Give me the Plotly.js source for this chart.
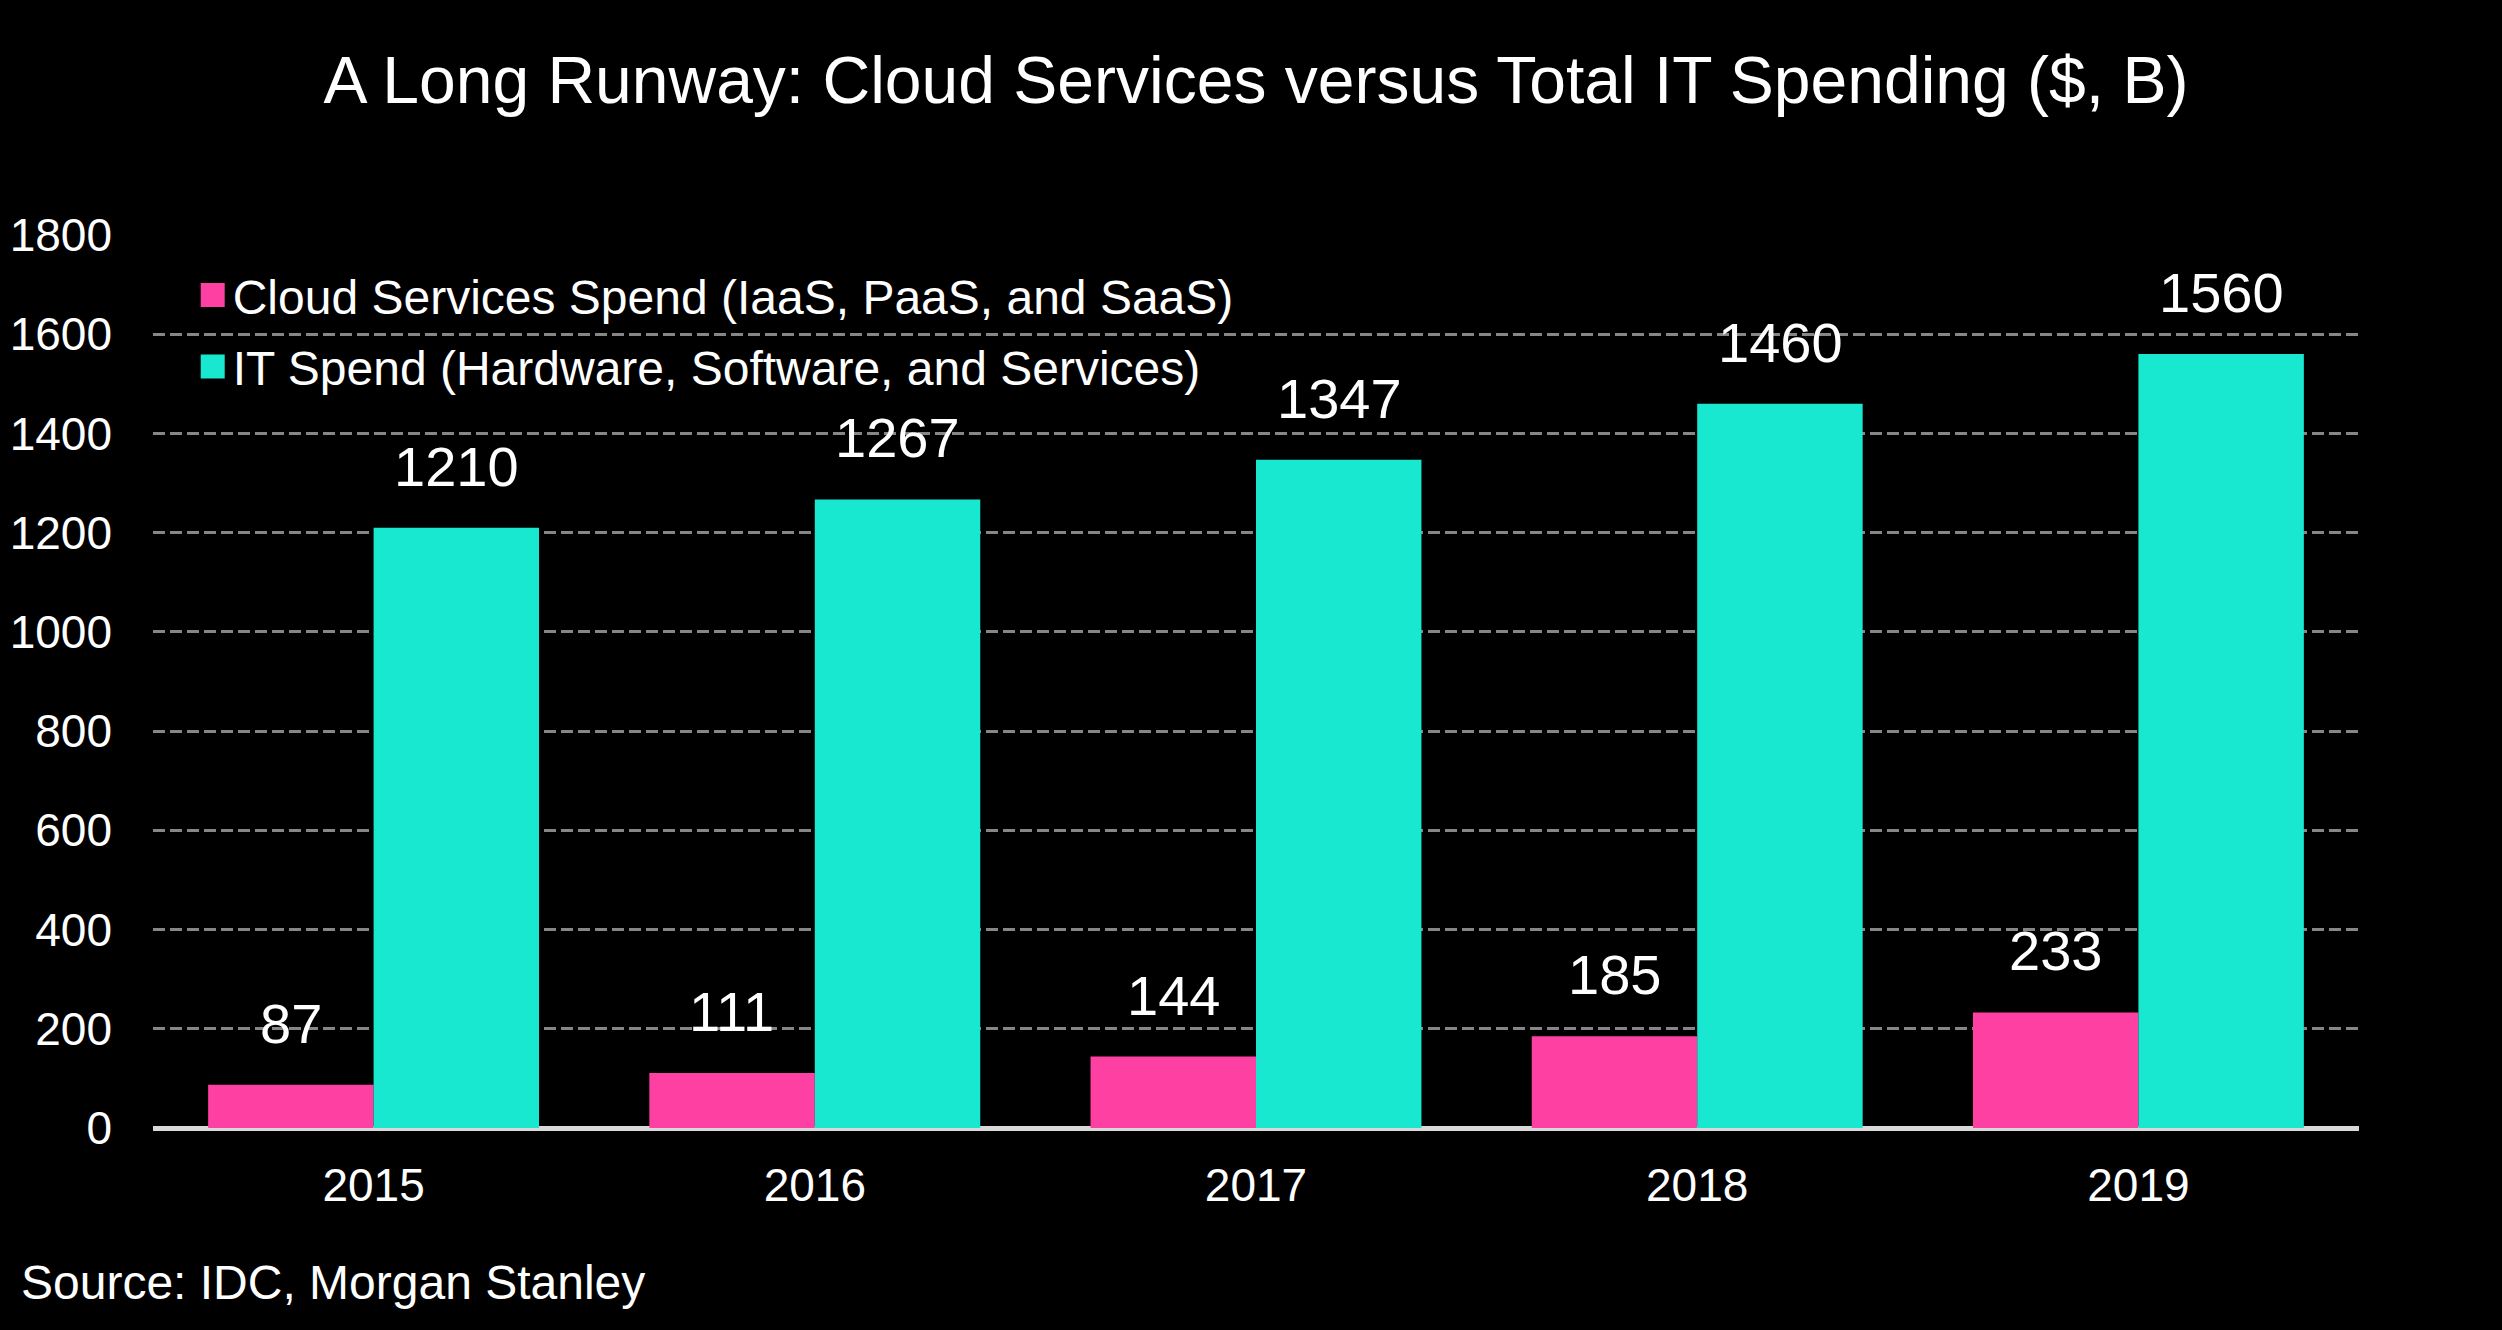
<!DOCTYPE html>
<html>
<head>
<meta charset="utf-8">
<script src="https://cdn.plot.ly/plotly-3.0.1.min.js"></script>
<style>
html, body { margin: 0; padding: 0; background: #000; }
#chart { width: 2502px; height: 1330px; }
</style>
</head>
<body>
<div id="chart"></div>
<script>
const years = ['2015', '2016', '2017', '2018', '2019'];
const cloudSpend = [87, 111, 144, 185, 233];
const itSpend = [1210, 1267, 1347, 1460, 1560];
const cloudName = 'Cloud Services Spend (IaaS, PaaS, and SaaS)';
const itName = 'IT Spend (Hardware, Software, and Services)';
const yTicks = [0, 200, 400, 600, 800, 1000, 1200, 1400, 1600, 1800];

const FONT = 'Liberation Sans, Arial, sans-serif';
const PINK = '#FF40A3';
const TEAL = '#19E8D1';

const traces = [
  { type: 'bar', x: years, y: cloudSpend, name: cloudName, legendgroup: 'a',
    marker: { color: PINK }, hoverinfo: 'skip' },
  { type: 'bar', x: years, y: itSpend, name: itName, legendgroup: 'b',
    marker: { color: TEAL }, hoverinfo: 'skip' }
];

const annotations = [];
years.forEach((yr, i) => {
  annotations.push({ x: i, y: cloudSpend[i], xref: 'x', yref: 'y', text: String(cloudSpend[i]),
    showarrow: false, xanchor: 'center', yanchor: 'bottom', xshift: -83, yshift: 28,
    font: { family: FONT, size: 56, color: '#fff' } });
  annotations.push({ x: i, y: itSpend[i], xref: 'x', yref: 'y', text: String(itSpend[i]),
    showarrow: false, xanchor: 'center', yanchor: 'bottom', xshift: 83, yshift: 28,
    font: { family: FONT, size: 56, color: '#fff' } });
});
annotations.push({ x: -0.0607, y: -0.1725, xref: 'paper', yref: 'paper', text: 'Source: IDC, Morgan Stanley',
  showarrow: false, xanchor: 'left', yanchor: 'middle', font: { family: FONT, size: 48, color: '#fff' } });

const layout = {
  width: 2502, height: 1330,
  paper_bgcolor: '#000', plot_bgcolor: '#000',
  margin: { l: 153, r: 143, t: 235, b: 202, pad: 0 },
  font: { family: FONT, color: '#fff' },
  title: { text: 'A Long Runway: Cloud Services versus Total IT Spending ($, B)',
    font: { family: FONT, size: 66, color: '#fff' },
    x: 0.5, xanchor: 'center', xref: 'paper', y: 1 - 80 / 1330, yref: 'container', yanchor: 'middle' },
  barmode: 'group', bargap: 0.25, bargroupgap: 0,
  xaxis: { type: 'category', range: [-0.5, 4.5], autorange: false, showgrid: false, zeroline: false,
    showline: false, ticks: '',
    tickfont: { family: FONT, size: 46, color: '#fff' }, ticklabelstandoff: 26 },
  yaxis: { range: [0, 1800], autorange: false, tickvals: yTicks, showgrid: true, gridcolor: '#868686', gridwidth: 3,
    griddash: '12px,5px', zeroline: true, zerolinecolor: '#d9d9d9', zerolinewidth: 5, showline: false, ticks: '',
    tickfont: { family: FONT, size: 46, color: '#fff' }, ticklabelstandoff: 40 },
  showlegend: true,
  legend: { x: 0.018, y: 0.975, xanchor: 'left', yanchor: 'top', bgcolor: 'rgba(0,0,0,0)',
    font: { family: FONT, size: 48, color: '#fff' }, traceorder: 'grouped', tracegroupgap: 6,
    itemclick: false, itemdoubleclick: false },
  annotations: annotations
};

Plotly.newPlot('chart', traces, layout, { staticPlot: true, displayModeBar: false }).then(() => {
  document.querySelectorAll('#chart .legendpoints path').forEach(p => {
    p.setAttribute('d', 'M12,12H-12V-12H12Z');
    p.style.strokeWidth = '0';
  });
});
</script>
</body>
</html>
